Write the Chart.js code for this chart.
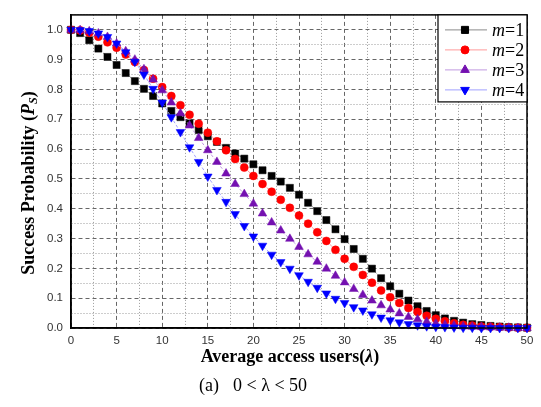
<!DOCTYPE html>
<html lang="en">
<head>
<meta charset="UTF-8" />
<title>Success Probability vs Average access users</title>
<script src="https://cdn.jsdelivr.net/npm/chart.js"></script>
<style>
  html, body { margin: 0; padding: 0; background: #fff; }
</style>
</head>
<body>
<canvas id="psChart" width="541" height="407"></canvas>
<script>
  // average access users (lambda), one point per integer
  const lambdas = [0,1,2,3,4,5,6,7,8,9,10,11,12,13,14,15,16,17,18,19,20,21,22,23,24,25,
    26,27,28,29,30,31,32,33,34,35,36,37,38,39,40,41,42,43,44,45,46,47,48,49,50];

  // success probability
  const psM1 = [1.0,0.989,0.965,0.937,0.909,0.882,0.855,0.828,0.802,0.778,
    0.753,0.728,0.707,0.686,0.664,0.643,0.624,0.604,0.585,0.568,
    0.549,0.529,0.51,0.491,0.47,0.447,0.42,0.392,0.362,0.331,
    0.298,0.265,0.232,0.199,0.167,0.14,0.115,0.092,0.073,0.057,
    0.043,0.032,0.024,0.018,0.013,0.01,0.007,0.005,0.003,0.002,0.001];
  const psM2 = [1.0,0.998,0.99,0.977,0.958,0.94,0.917,0.892,0.865,0.836,
    0.808,0.778,0.747,0.715,0.685,0.655,0.626,0.596,0.567,0.538,
    0.51,0.483,0.457,0.43,0.403,0.377,0.35,0.321,0.292,0.262,
    0.232,0.205,0.178,0.152,0.126,0.103,0.084,0.067,0.054,0.041,
    0.031,0.023,0.016,0.011,0.008,0.005,0.004,0.003,0.002,0.001,0.001];
  const psM3 = [1.0,0.999,0.995,0.988,0.976,0.954,0.928,0.9,0.868,0.833,
    0.797,0.756,0.72,0.679,0.637,0.596,0.557,0.518,0.483,0.449,
    0.417,0.384,0.354,0.327,0.299,0.272,0.247,0.222,0.199,0.175,
    0.153,0.131,0.111,0.092,0.076,0.062,0.049,0.037,0.029,0.021,
    0.015,0.011,0.008,0.005,0.004,0.003,0.002,0.001,0.001,0,0];
  const psM4 = [1.0,0.999,0.996,0.988,0.976,0.954,0.925,0.893,0.85,0.802,
    0.756,0.707,0.657,0.606,0.557,0.508,0.463,0.423,0.382,0.342,
    0.307,0.276,0.246,0.221,0.199,0.177,0.155,0.135,0.116,0.098,
    0.084,0.07,0.059,0.046,0.035,0.026,0.019,0.013,0.009,0.006,
    0.004,0.003,0.002,0.001,0.001,0,0,0,0,0,0];

  const seriesLabels = ['1', '2', '3', '4'];

  const serif = '"Liberation Serif", "Times New Roman", serif';
  const sans = '"Liberation Sans", Arial, sans-serif';

  const toPts = ys => lambdas.map((x, i) => ({ x: x, y: ys[i] }));

  const styles = [
    { pointStyle: 'rect', radius: 5, rotation: 0, color: '#000000', line: '#8a8a8a' },
    { pointStyle: 'circle', radius: 4, rotation: 0, color: '#ff0000', line: '#ff9a9a' },
    { pointStyle: 'triangle', radius: 5, rotation: 0, color: '#7410b0', line: '#c09ae0' },
    { pointStyle: 'triangle', radius: 5, rotation: 180, color: '#0000ff', line: '#a0a0ff' }
  ];

  const datasets = [psM1, psM2, psM3, psM4].map((ys, i) => ({
    label: 'm=' + seriesLabels[i],
    data: toPts(ys),
    showLine: true,
    borderColor: styles[i].line,
    borderWidth: 1,
    borderDash: [3, 2],
    pointStyle: styles[i].pointStyle,
    pointRotation: styles[i].rotation,
    pointRadius: styles[i].radius,
    pointBackgroundColor: styles[i].color,
    pointBorderColor: styles[i].color,
    pointBorderWidth: 0.5,
    order: 4 - i,
    clip: false
  }));

  function isMajor(ctx, major) {
    return Math.abs(ctx.tick.value / major - Math.round(ctx.tick.value / major)) < 1e-6;
  }
  function gridDash(ctx, major) {
    if (!ctx.tick) return [];
    return isMajor(ctx, major) ? [4, 3] : [1, 2];
  }
  function gridColor(ctx, major) {
    if (!ctx.tick) return '#888';
    return isMajor(ctx, major) ? '#666' : '#9a9a9a';
  }

  // draws a run of text pieces with different fonts; x null centres it
  function drawPieces(c, pieces, x, y) {
    let total = 0;
    pieces.forEach(p => { c.font = p.font; total += c.measureText(p.text).width; });
    let cx = x === null ? -total / 2 : x;
    pieces.forEach(p => {
      c.font = p.font;
      c.fillText(p.text, cx, y + (p.dy || 0));
      cx += c.measureText(p.text).width;
    });
  }

  const paperText = {
    id: 'paperText',
    afterDraw(chart) {
      const c = chart.ctx;
      const a = chart.chartArea;
      c.save();
      // frame
      c.strokeStyle = '#000';
      c.lineWidth = 1.5;
      c.strokeRect(a.left, a.top, a.right - a.left, a.bottom - a.top);

      // legend box in the top right corner
      const bw = 89, bh = 87;
      const bx = a.right - bw, by = a.top;
      c.fillStyle = '#fff';
      c.fillRect(bx, by, bw, bh);
      c.lineWidth = 1.2;
      c.strokeRect(bx, by, bw, bh);
      styles.forEach((s, i) => {
        const y = by + 15 + i * 20;
        c.strokeStyle = s.line;
        c.lineWidth = 1;
        c.beginPath();
        c.moveTo(bx + 7, y);
        c.lineTo(bx + 49, y);
        c.stroke();
        c.fillStyle = s.color;
        c.strokeStyle = s.color;
        Chart.helpers.drawPoint(c, { pointStyle: s.pointStyle, radius: s.radius, rotation: s.rotation, borderWidth: 0.5 }, bx + 27, y);
        c.fillStyle = '#000';
        c.textBaseline = 'middle';
        c.textAlign = 'left';
        drawPieces(c, [
          { text: 'm', font: 'italic 18px ' + serif },
          { text: '=' + seriesLabels[i], font: '18px ' + serif }
        ], bx + 54, y + 1);
      });

      // x axis title and caption
      c.fillStyle = '#000';
      c.textBaseline = 'middle';
      c.textAlign = 'left';
      c.save();
      c.translate(290, 357);
      drawPieces(c, [
        { text: 'Average access users(', font: 'bold 18px ' + serif },
        { text: '\u03bb', font: 'bold italic 18px ' + serif },
        { text: ')', font: 'bold 18px ' + serif }
      ], null, 0);
      c.restore();
      c.font = '18px ' + serif;
      c.fillText('(a)', 199, 386);
      c.fillText('0 < \u03bb < 50', 233, 386);

      // y axis title, rotated
      c.save();
      c.translate(29, 183);
      c.rotate(-Math.PI / 2);
      drawPieces(c, [
        { text: 'Success Probability (', font: 'bold 18px ' + serif },
        { text: 'P', font: 'bold italic 18px ' + serif },
        { text: 'S', font: 'bold italic 12px ' + serif, dy: 5 },
        { text: ')', font: 'bold 18px ' + serif }
      ], null, 0);
      c.restore();
      c.restore();
    }
  };

  new Chart(document.getElementById('psChart'), {
    type: 'scatter',
    data: { datasets: datasets },
    options: {
      responsive: false,
      animation: false,
      layout: { padding: { left: 0, right: 14, top: 10, bottom: 0 } },
      plugins: {
        legend: { display: false },
        tooltip: { enabled: false }
      },
      scales: {
        x: {
          type: 'linear',
          min: 0,
          max: 50,
          afterFit: s => { s.height = 79; },
          grid: { drawTicks: false, lineWidth: 1, color: ctx => gridColor(ctx, 5) },
          border: { color: '#000', width: 1.5, dash: ctx => gridDash(ctx, 5) },
          ticks: {
            stepSize: 2.5,
            autoSkip: false,
            maxRotation: 0,
            padding: 6,
            color: '#333',
            font: { family: sans, size: 11.5 },
            callback: v => (v % 5 === 0 ? String(v) : '')
          }
        },
        y: {
          type: 'linear',
          min: 0,
          max: 1.05,
          afterFit: s => { s.width = 71; },
          grid: { drawTicks: false, lineWidth: 1, color: ctx => gridColor(ctx, 0.1) },
          border: { color: '#000', width: 1.5, dash: ctx => gridDash(ctx, 0.1) },
          ticks: {
            stepSize: 0.05,
            autoSkip: false,
            padding: 8,
            color: '#333',
            font: { family: sans, size: 11.5 },
            callback: v => {
              const k = Math.round(v * 100);
              return k % 10 === 0 && k <= 100 ? (k / 100).toFixed(1) : '';
            }
          }
        }
      }
    },
    plugins: [paperText]
  });
</script>
</body>
</html>
